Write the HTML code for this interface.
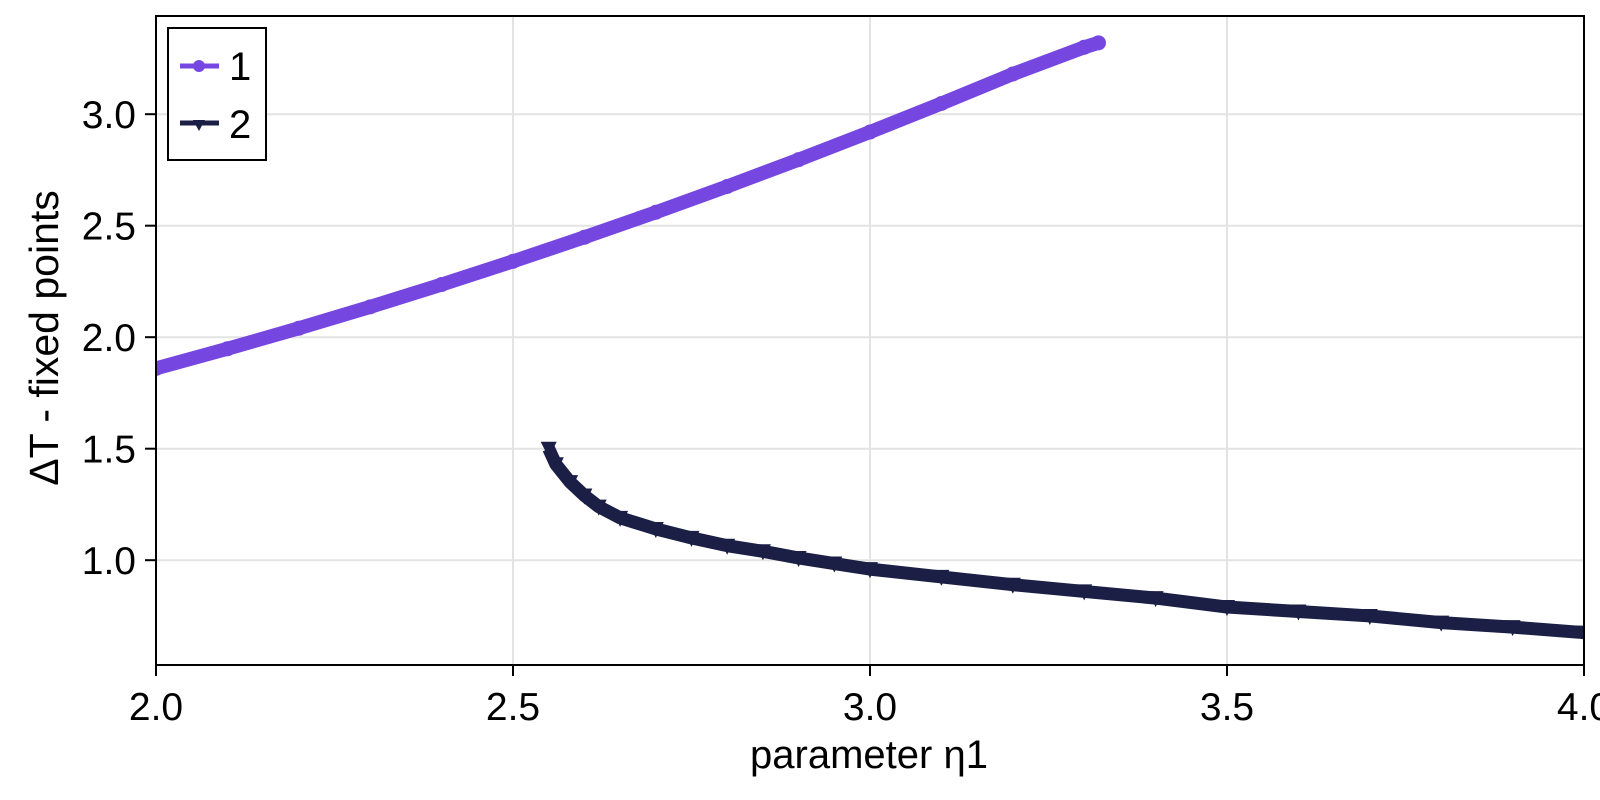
<!DOCTYPE html>
<html><head><meta charset="utf-8"><style>
body{margin:0;background:#fff}
svg{font-family:"Liberation Sans",sans-serif;display:block}
</style></head><body>
<svg id="chart" width="1600" height="800" viewBox="0 0 1600 800" xmlns="http://www.w3.org/2000/svg">
<g id="grid"></g>
<g id="series"></g>
<rect x="156" y="16" width="1428" height="649" fill="none" stroke="#000" stroke-width="2"/>
<g id="axes"></g>
<text x="869" y="768" font-size="40" text-anchor="middle">parameter η1</text>
<text transform="translate(58,338) rotate(-90)" font-size="41" text-anchor="middle">ΔT - fixed points</text>
<g>
<rect x="168" y="28" width="98" height="132" fill="#fff" stroke="#000" stroke-width="2"/>
<g>
<line x1="180" y1="66" x2="219" y2="66" stroke="#7647e0" stroke-width="5"/>
<circle cx="199" cy="66" r="6" fill="#7647e0"/>
<text x="229" y="80" font-size="40">1</text></g>
<g>
<line x1="180" y1="123" x2="219" y2="123" stroke="#1b1f45" stroke-width="5"/>
<path d="M193,120 L205,120 L199,131 Z" fill="#1b1f45"/>
<text x="229" y="138" font-size="40">2</text></g>
</g>
</svg>
<script>
const s1X=[2.0,2.1,2.2,2.3,2.4,2.5,2.6,2.7,2.8,2.9,3.0,3.1,3.2,3.3,3.32];
const s1Y=[1.86,1.948,2.04,2.136,2.236,2.34,2.448,2.56,2.676,2.796,2.92,3.048,3.18,3.30,3.32];
const s2X=[2.55,2.56,2.58,2.60,2.62,2.65,2.70,2.75,2.80,2.85,2.90,2.95,3.00,3.10,3.20,3.30,3.40,3.50,3.60,3.70,3.80,3.90,4.00];
const s2Y=[1.50,1.43,1.35,1.29,1.24,1.19,1.14,1.10,1.065,1.04,1.01,0.985,0.96,0.925,0.89,0.86,0.83,0.79,0.77,0.75,0.72,0.70,0.675];
const xTicks=[2.0,2.5,3.0,3.5,4.0];
const yTicks=[1.0,1.5,2.0,2.5,3.0];
const NS="http://www.w3.org/2000/svg";
const X0=156,X1=1584,XMIN=2,XMAX=4;
const Y0=665,YMIN=0.53,PXU=223;
function xs(v){return X0+(v-XMIN)/(XMAX-XMIN)*(X1-X0);}
function ys(v){return Y0-(v-YMIN)*PXU;}
function mk(tag,attrs,parent){const e=document.createElementNS(NS,tag);for(const k in attrs)e.setAttribute(k,attrs[k]);parent.appendChild(e);return e;}
const grid=document.getElementById('grid'),axes=document.getElementById('axes'),ser=document.getElementById('series');
xTicks.forEach(t=>{
 const g=mk('line',{x1:xs(t),x2:xs(t),y1:16,y2:665,stroke:'#e3e3e3','stroke-width':2},grid);
 
 
 const tk=mk('line',{x1:xs(t),x2:xs(t),y1:665,y2:676,stroke:'#000','stroke-width':2},axes);
 
 
 const tx=mk('text',{x:xs(t),y:720,'font-size':39,'text-anchor':'middle'},axes);
 tx.textContent=t.toFixed(1);
 
 
});
yTicks.forEach(t=>{
 const g=mk('line',{x1:156,x2:1584,y1:ys(t),y2:ys(t),stroke:'#e3e3e3','stroke-width':2},grid);
 
 
 const tk=mk('line',{x1:145,x2:156,y1:ys(t),y2:ys(t),stroke:'#000','stroke-width':2},axes);
 
 
 const tx=mk('text',{x:136,y:ys(t)+14,'font-size':39,'text-anchor':'end'},axes);
 tx.textContent=t.toFixed(1);
 
 
});
const clip=mk('clipPath',{id:'pc'},document.getElementById('chart'));
mk('rect',{x:156,y:16,width:1428,height:649},clip);
ser.setAttribute('clip-path','url(#pc)');
const p1=mk('polyline',{points:s1X.map((x,i)=>xs(x)+','+ys(s1Y[i])).join(' '),fill:'none',stroke:'#7647e0','stroke-width':14,'stroke-linejoin':'round','stroke-linecap':'round'},ser);


s1X.forEach((x,i)=>{
 const c=mk('circle',{cx:xs(x),cy:ys(s1Y[i]),r:7.5,fill:'#7647e0'},ser);
 
 
});
const p2=mk('polyline',{points:s2X.map((x,i)=>xs(x)+','+ys(s2Y[i])).join(' '),fill:'none',stroke:'#1b1f45','stroke-width':13,'stroke-linejoin':'round'},ser);


s2X.forEach((x,i)=>{
 const cx=xs(x),cy=ys(s2Y[i]);
 const t=mk('path',{d:`M${cx-8},${cy-7} L${cx+8},${cy-7} L${cx},${cy+9} Z`,fill:'#1b1f45'},ser);
 
 
});
</script>
</body></html>
